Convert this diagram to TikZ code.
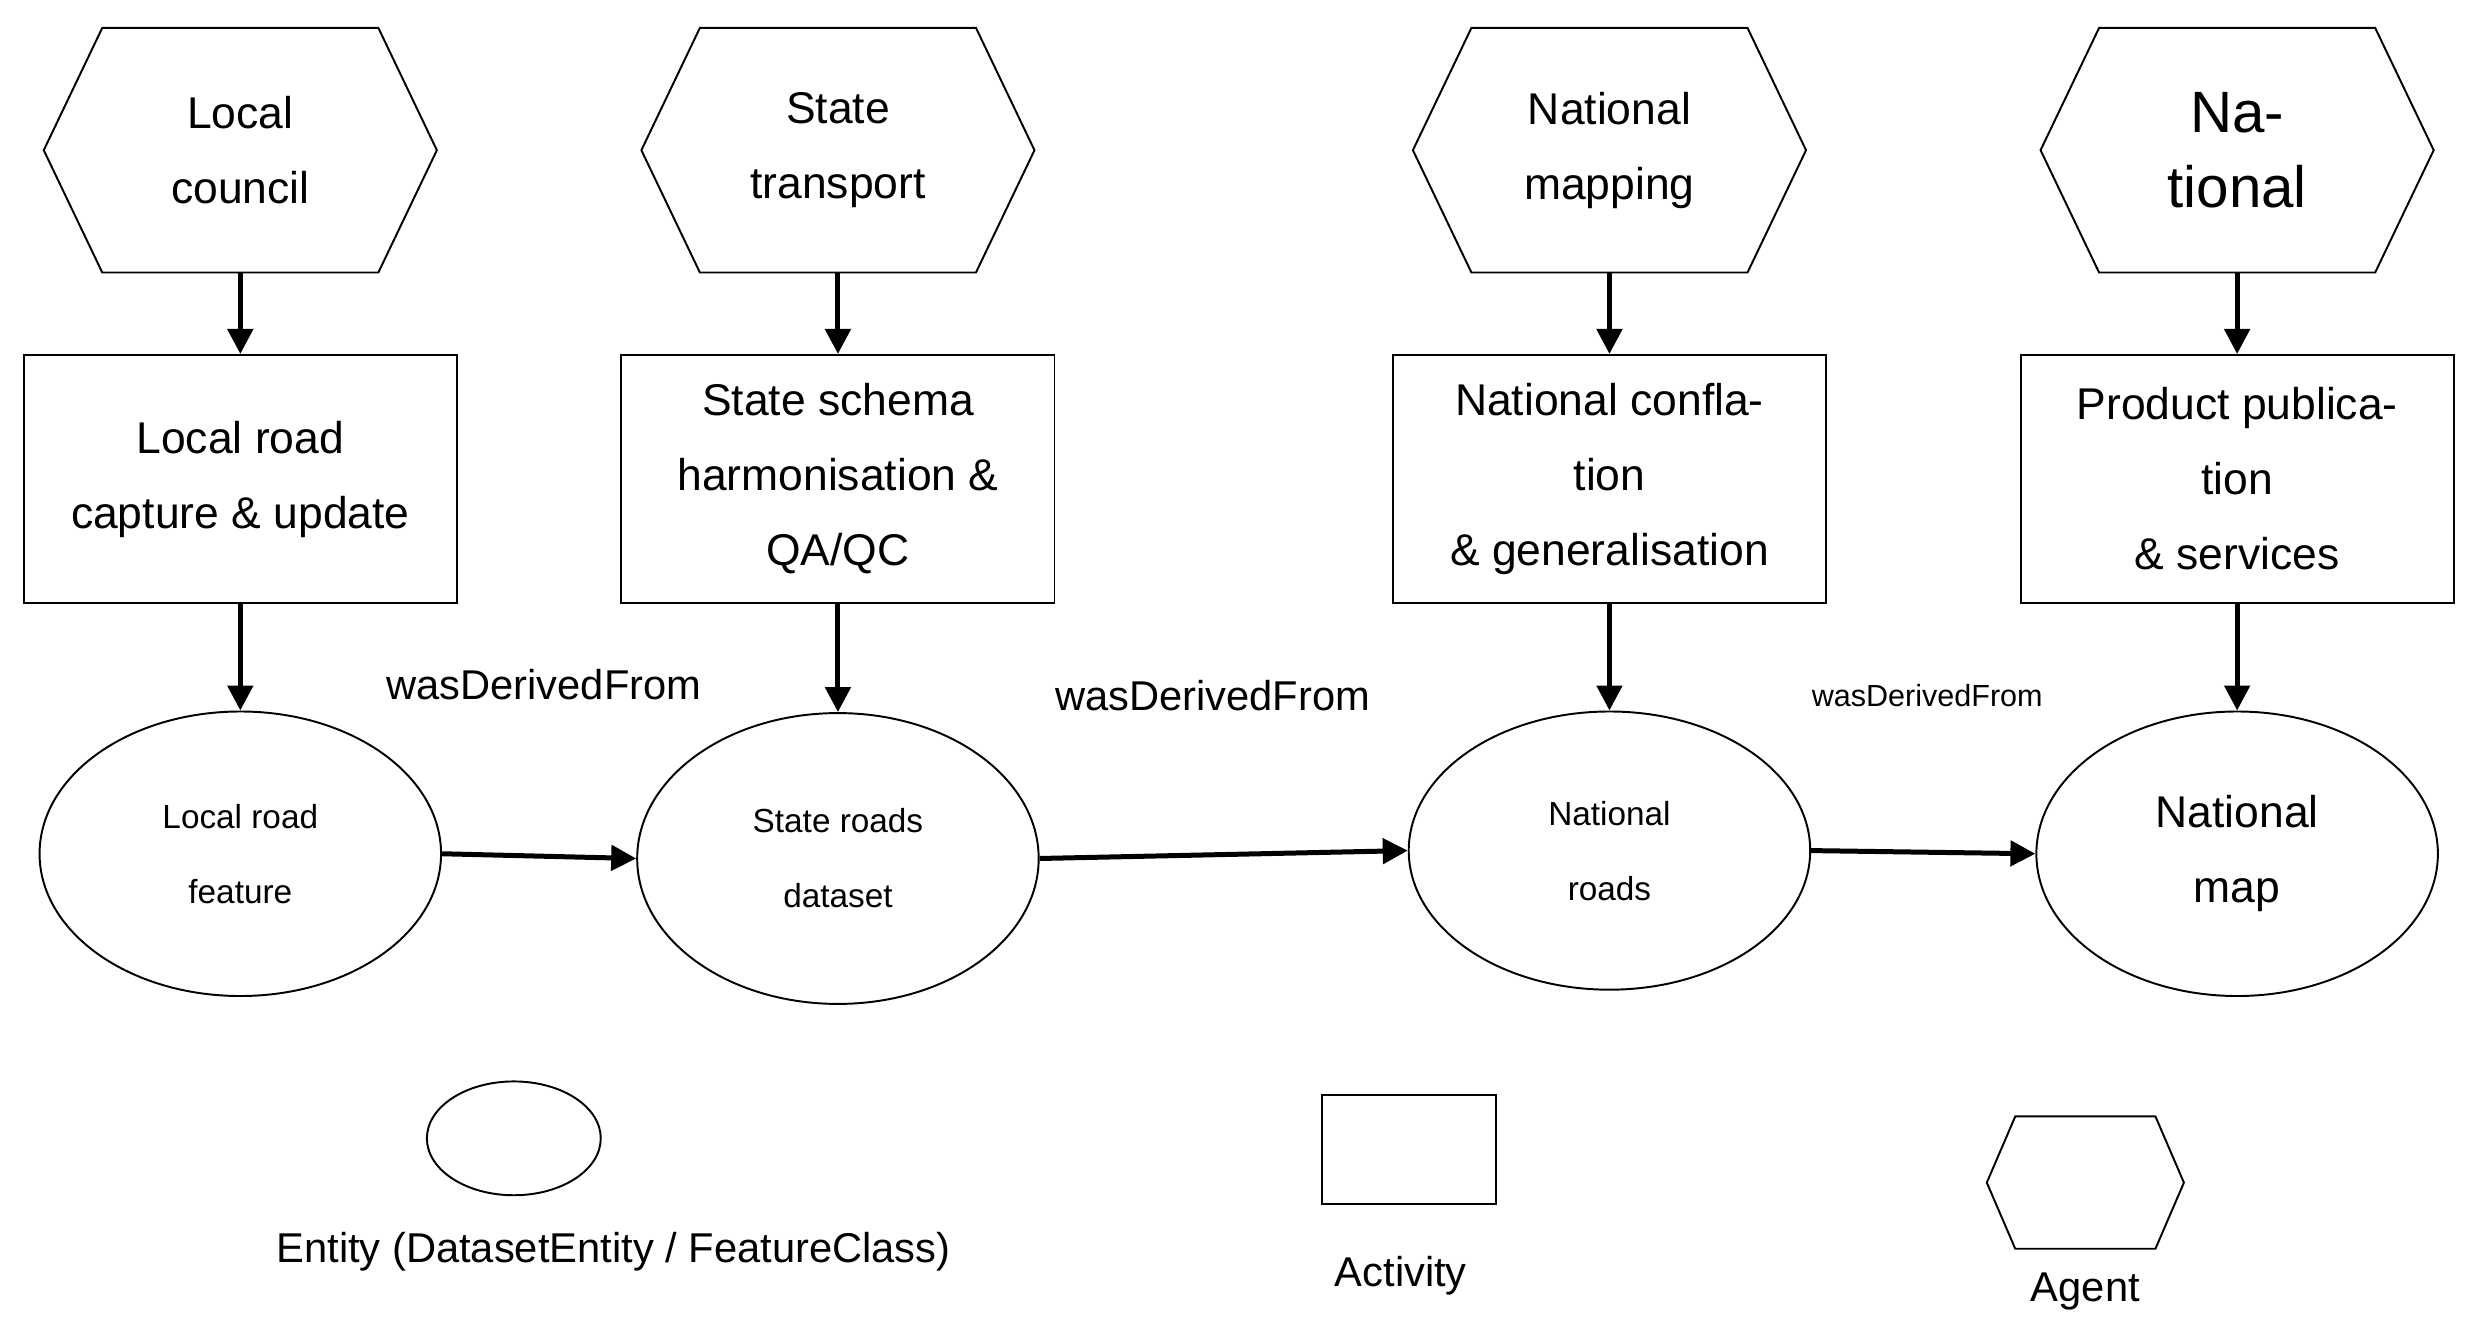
\documentclass[tikz,border=0pt]{standalone}
\usepackage{fontspec}
\setmainfont{Liberation Sans}
\usetikzlibrary{shapes.geometric,arrows.meta}
\begin{document}
\begin{tikzpicture}[x=0.02cm,y=-0.02cm,
  thin line/.style={line width=0.7pt,draw=black},
  box/.style={thin line,rectangle,minimum width=5.48cm,minimum height=3.14cm,align=center,font=\fontsize{16}{27}\selectfont,inner sep=0pt},
  ent/.style={thin line,ellipse,minimum width=5.08cm,minimum height=3.6cm,align=center,font=\fontsize{12}{27}\selectfont,inner sep=0pt},
  hexnode/.style={rectangle,minimum width=4.96cm,minimum height=3.08cm,align=center,font=\fontsize{16}{27}\selectfont,inner sep=0pt},
  arr/.style={line width=1.8pt,-{Triangle[length=9pt,width=9pt]}},
  lab/.style={font=\fontsize{15}{18}\selectfont}]
\useasboundingbox (0,0) rectangle (1568,846);
\newcommand{\hexdraw}[2]{% name, inset (in displayed px)
  \draw[thin line] (#1.west) -- ([xshift=#2*0.02cm]#1.north west) -- ([xshift=-#2*0.02cm]#1.north east) -- (#1.east) -- ([xshift=-#2*0.02cm]#1.south east) -- ([xshift=#2*0.02cm]#1.south west) -- cycle;}
% agents
\node[hexnode] (h1) at (152,95) {Local\\council};
\node[hexnode] (h2) at (530,95) {State\\transport};
\node[hexnode] (h3) at (1018,95) {National\\mapping};
\node[hexnode,font=\fontsize{21}{27}\selectfont] (h4) at (1415,95) {Na-\\tional};
\foreach \n in {h1,h2,h3,h4} {\hexdraw{\n}{37}}
% activities
\node[box] (a1) at (152,303) {Local road\\capture \& update};
\node[box] (a2) at (530,303) {State schema\\harmonisation \&\\QA/QC};
\node[box] (a3) at (1018,303) {National confla-\\tion\\\& generalisation};
\node[box] (a4) at (1415,303) {Product publica-\\tion\\\& services};
% entities
\node[ent] (e1) at (152,540) {Local road\\feature};
\node[ent,minimum height=3.68cm] (e2) at (530,543) {State roads\\dataset};
\node[ent,minimum height=3.52cm] (e3) at (1018,538) {National\\roads};
\node[ent,font=\fontsize{16}{27}\selectfont] (e4) at (1415,540) {National\\map};
\foreach \i in {1,2,3,4} {
  \draw[arr] (h\i.south) -- (a\i.north);
  \draw[arr] (a\i.south) -- (e\i.north);}
\draw[arr] (e1.east) -- (e2.west);
\draw[arr] (e2.east) -- (e3.west);
\draw[arr] (e3.east) -- (e4.west);
\node[lab] (w1) at (344,433) {wasDerivedFrom};
\node[lab] (w2) at (767,440) {wasDerivedFrom};
\node[font=\fontsize{11}{14}\selectfont] (w3) at (1219,440) {wasDerivedFrom};
% legend
\node[thin line,ellipse,minimum width=2.2cm,minimum height=1.44cm] (le) at (325,720) {};
\node[lab] (lt1) at (388,792) {Entity (DatasetEntity / FeatureClass)};
\node[thin line,rectangle,minimum width=2.2cm,minimum height=1.38cm] (lr) at (891,727) {};
\node[lab] (lt2) at (886,807) {Activity};
\node[hexnode,minimum width=2.48cm,minimum height=1.66cm] (lh) at (1319,748) {};
\hexdraw{lh}{18}
\node[lab] (lt3) at (1319,817) {Agent};
\end{tikzpicture}
\end{document}
